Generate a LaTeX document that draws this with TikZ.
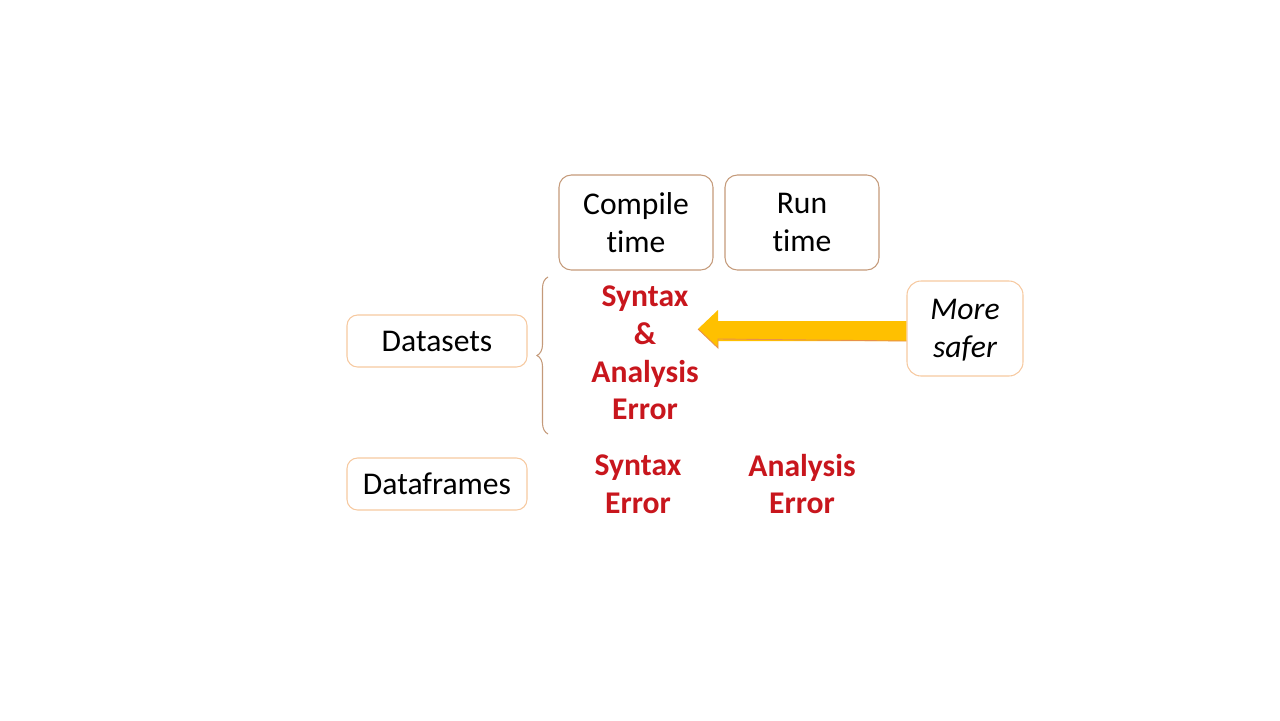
\documentclass[tikz,border=0pt]{standalone}
\usepackage{fontspec}
\setmainfont[Ligatures=NoCommon]{Carlito}
\usetikzlibrary{decorations.pathreplacing,calc}
\definecolor{boxbrown}{HTML}{C49A7A}
\definecolor{boxorange}{HTML}{F6C9A0}
\definecolor{errred}{HTML}{C8161D}
\definecolor{arrowyellow}{HTML}{FFC000}
\definecolor{arrowedge}{HTML}{E8904A}
\tikzset{
  timebox/.style={draw=boxbrown, line width=0.6pt, rounded corners=7pt, minimum width=154*0.02cm, minimum height=95*0.02cm, align=center, font=\fontsize{18}{21.5}\selectfont},
  rowbox/.style={draw=boxorange, line width=0.6pt, rounded corners=6pt, minimum width=180*0.02cm, minimum height=52*0.02cm, align=center, font=\fontsize{18}{21.5}\selectfont},
  safebox/.style={draw=boxorange, line width=0.6pt, rounded corners=8pt, minimum width=116*0.02cm, minimum height=95*0.02cm, align=center, font=\fontsize{18}{21.5}\selectfont\itshape},
  errtext/.style={text=errred, align=center, font=\fontsize{18}{21.5}\selectfont\bfseries, inner sep=0pt},
}
\begin{document}
\begin{tikzpicture}[x=0.02cm,y=-0.02cm]
\useasboundingbox (0,0) rectangle (1280,720);
\node[timebox] (compile) at (636,222.5) {Compile\\time};
\node[timebox] (run) at (802,222.5) {Run\\time};
\node[rowbox] (datasets) at (437,341) {Datasets};
\node[rowbox] (dataframes) at (437,484) {Dataframes};
\node[safebox] (safer) at (965,328.5) {};
\node[align=center, font=\fontsize{18}{21.5}\selectfont\itshape] (safertext) at (965,330.5) {More\\safer};
\node[errtext] (dserr) at (645,353) {Syntax\\\&\\Analysis\\Error};
\node[errtext] (synerr) at (638,484) {Syntax\\Error};
\node[errtext] (anaerr) at (802,484) {Analysis\\Error};
% brace
\coordinate (bbot) at (548,434);
\coordinate (btop) at (548,277);
\draw[boxbrown, line width=0.6pt, decorate, decoration={brace, amplitude=11*0.02cm, aspect=0.5}] (bbot) -- (btop);
% arrow from safer to dataset errors
\coordinate (tail) at ($(safer.west)+(0,2.5)$);
\coordinate (tip) at (698,329);
\fill[arrowyellow] (tail) ++(0,-10) -| (718,310) -- (tip) -- (718,348) |- ($(tail)+(0,10)$) -- cycle;
\draw[arrowedge, line width=0.5pt] ($(tail)+(0,10)$) -- (718,339) -- (718,348) -- (tip);
\end{tikzpicture}
\end{document}
